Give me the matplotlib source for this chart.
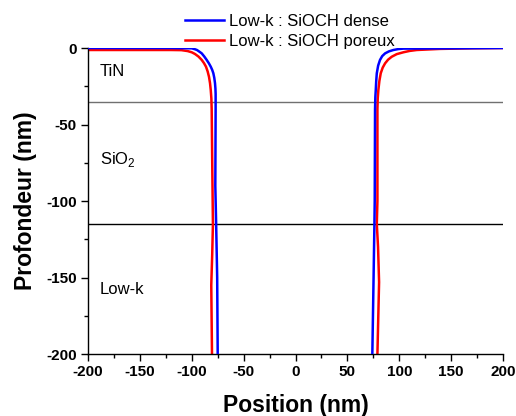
import matplotlib
matplotlib.use("Agg")
import matplotlib.pyplot as plt
from matplotlib.ticker import MultipleLocator

plt.rcParams['font.family'] = ['Liberation Sans', 'DejaVu Sans']
plt.rcParams['axes.unicode_minus'] = False

# Data: dense (blue) profile, left and right sidewalls
dense_left_x = [-200, -120, -100, -97, -95, -93.5, -92, -90.4, -88, -85.6, -83.5, -81.7, -80.3, -79.2, -78.3, -77.6, -77.2, -77.0, -77.0, -77.3, -76.5, -75.5, -75.0]
dense_left_y = [0, 0, -0.2, -0.8, -1.3, -2, -2.7, -3.5, -5.5, -7.8, -10, -12.2, -14.3, -16.5, -19.5, -23, -26.5, -30, -40, -90, -115, -150, -200]
dense_right_x = [74.0, 75.2, 76.0, 76.3, 76.6, 76.9, 77.3, 77.7, 78.3, 79.6, 81.4, 83.5, 86.3, 90, 94.3, 99, 103.9, 200]
dense_right_y = [-200, -150, -115, -100, -40, -32, -27.5, -22, -16.5, -11.5, -7.8, -5.3, -3.5, -2.2, -1.3, -0.7, -0.4, 0]

# porous (red) profile
poreux_left_x = [-200, -120, -110, -104, -100, -96.9, -93.5, -90.4, -88.2, -86.3, -84.7, -83.4, -82.4, -81.7, -81.1, -80.8, -80.2, -79.6, -80.3, -81.2, -80.5]
poreux_left_y = [-1.3, -1.3, -1.4, -2.0, -2.8, -3.9, -5.6, -7.8, -9.9, -12.2, -15.3, -18.8, -23, -27.5, -33, -40, -80, -115, -135, -155, -200]
poreux_right_x = [78.9, 80.5, 79.5, 78.3, 78.9, 78.9, 79.2, 79.8, 80.8, 82.1, 84, 86.3, 89.2, 92.7, 97.5, 103.9, 110, 116.8, 139, 170, 200]
poreux_right_y = [-200, -153, -130, -115, -100, -40, -33, -27.5, -21.5, -16.5, -12.8, -10, -7.6, -5.7, -4.0, -2.8, -1.9, -1.3, -0.6, -0.2, 0]

interfaces = [-35, -115]
interface_colors = ['#707070', 'black']
layer_labels = ['TiN', 'SiO$_\\mathregular{2}$', 'Low-k']
layer_label_y = [-15.5, -73, -158]

fig = plt.figure(figsize=(5.16, 4.16), dpi=100)
ax = fig.add_axes([0.1705, 0.149, 0.8045, 0.7356])

for yv, c in zip(interfaces, interface_colors):
    ax.axhline(yv, color=c, lw=1.0, zorder=1)

l1, = ax.plot(dense_left_x, dense_left_y, color='#0000ff', lw=1.8, zorder=3, label='Low-k : SiOCH dense')
ax.plot(dense_right_x, dense_right_y, color='#0000ff', lw=1.8, zorder=3)
l2, = ax.plot(poreux_left_x, poreux_left_y, color='#ff0000', lw=1.8, zorder=2, label='Low-k : SiOCH poreux')
ax.plot(poreux_right_x, poreux_right_y, color='#ff0000', lw=1.8, zorder=2)

for t, yv in zip(layer_labels, layer_label_y):
    ax.text(-188.5, yv, t, fontsize=12, va='center', ha='left')

ax.set_xlim(-200, 200)
ax.set_ylim(-200, 0)
ax.xaxis.set_major_locator(MultipleLocator(50))
ax.xaxis.set_minor_locator(MultipleLocator(25))
ax.yaxis.set_major_locator(MultipleLocator(50))
ax.yaxis.set_minor_locator(MultipleLocator(25))
ax.tick_params(which='major', direction='out', length=5, width=1, labelsize=11, pad=3)
ax.tick_params(which='minor', direction='out', length=3, width=1)
for lab in ax.get_xticklabels() + ax.get_yticklabels():
    lab.set_fontweight('bold')
ax.spines['top'].set_visible(False)
ax.spines['right'].set_visible(False)
ax.spines['left'].set_linewidth(1)
ax.spines['bottom'].set_linewidth(1)
ax.set_xlabel('Position (nm)', fontsize=16.5, fontweight='bold', labelpad=11)
ax.set_ylabel('Profondeur (nm)', fontsize=16.5, fontweight='bold', labelpad=7)

fig.legend(handles=[l1, l2], loc='upper left', bbox_to_anchor=(185/516, 1 - 14/416), frameon=False,
           fontsize=12, handlelength=2.35, handletextpad=0.3, labelspacing=0.3,
           borderaxespad=0, borderpad=0)

fig.savefig('out.png', dpi=100)
